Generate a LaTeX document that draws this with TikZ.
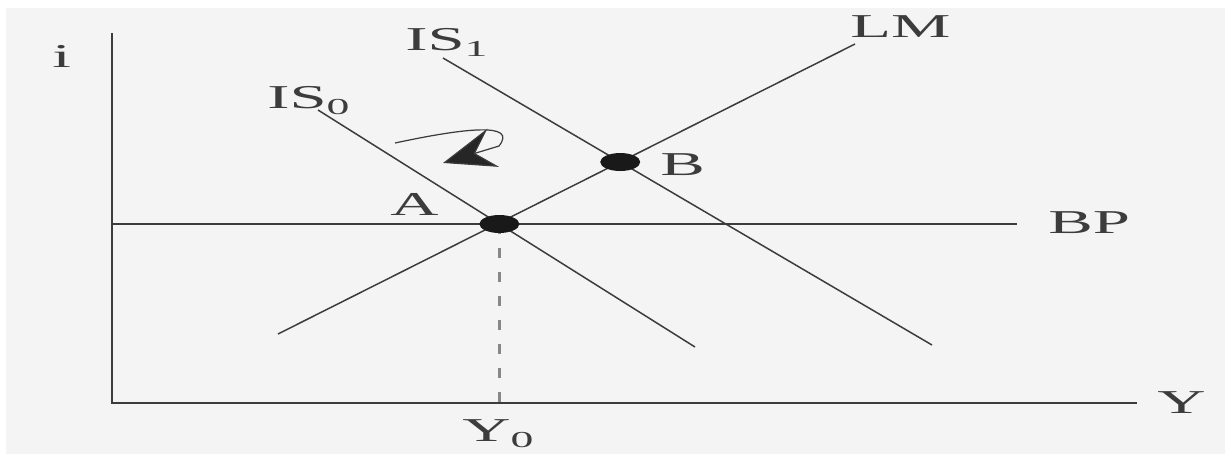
\documentclass[tikz,border=0pt]{standalone}
\usepackage{fontspec}
\setmainfont{Liberation Serif}
\usepackage{tikz}
\usetikzlibrary{arrows.meta, shapes.geometric, calc}
\definecolor{inkgray}{RGB}{60,60,60}
\definecolor{paper}{RGB}{244,244,244}
\definecolor{dashgray}{RGB}{135,135,135}
\tikzset{
	schedule/.style={line width=0.85pt, draw=inkgray}
}
\tikzset{
	curvelabel/.style={font=\fontsize{19}{21}\selectfont, text=inkgray, inner sep=0pt, anchor=base west}
}
\tikzset{
	eqdot/.style={ellipse, fill=black!90, minimum width=0.8cm, minimum height=0.36cm, inner sep=0pt},
	y0dash/.style={line width=1.4pt, draw=dashgray, dash pattern=on 0.2cm off 0.28cm},
	hookarrow/.style={line width=0.7pt, draw=inkgray,
		-{Stealth[length=1.05cm, width=0.8cm, inset=0.38cm, fill=black!85]}}
}
\newcommand{\wide}[1]{\scalebox{2.0}[1]{#1}}
\newcommand{\lowsub}[1]{\raisebox{-3.5pt}{\fontsize{13}{13}\selectfont #1}}

\begin{document}
\begin{tikzpicture}[x=0.02cm, y=-0.02cm]
      \useasboundingbox (0,0) rectangle (1225,454);
      \fill[paper] (6,8) rectangle (1225,454);
      % axes
      \coordinate (origin) at (112,403);
      \coordinate (itop) at (112,33);
      \coordinate (yend) at (1137,403);
      \draw[line width=1pt, inkgray] (itop) -- (origin) -- (yend);
      \node[curvelabel] (ilabel) at (52,67) {\wide{i}};
      \node[curvelabel] (ylabel) at (1157,413) {\wide{Y}};
      % schedules
      \coordinate (bpstart) at (112,224);
      \coordinate (bpend) at (1017,224);
      \coordinate (lmlow) at (278,334);
      \coordinate (lmhigh) at (855,44);
      \coordinate (isohigh) at (318,110);
      \coordinate (isolow) at (695,347);
      \coordinate (isihigh) at (443,58);
      \coordinate (isilow) at (932,345);
      \draw[schedule] (bpstart) -- (bpend);
      \draw[schedule] (lmlow) -- (lmhigh);
      \draw[schedule] (isohigh) -- (isolow);
      \draw[schedule] (isihigh) -- (isilow);
      \node[curvelabel] (bplabel) at (1048,233) {\wide{BP}};
      \node[curvelabel] (lmlabel) at (850,37) {\wide{LM}};
      \node[curvelabel] (isolabel) at (267,108) {\wide{IS\lowsub{0}}};
      \node[curvelabel] (isilabel) at (405,50) {\wide{IS\lowsub{1}}};
      % equilibria
      \coordinate (eqa) at (intersection of isohigh--isolow and bpstart--bpend);
      \coordinate (eqb) at (intersection of isihigh--isilow and lmlow--lmhigh);
      \draw[y0dash] (eqa) -- (eqa |- origin);
      \node[eqdot] (A) at (eqa) {};
      \node[eqdot] (B) at (eqb) {};
      \node[curvelabel] (alabel) at (390,215) {\wide{A}};
      \node[curvelabel] (blabel) at (660,175) {\wide{B}};
      % raised a little so the subscript stays on the page
      \node[curvelabel] (yolabel) at (462,441) {\wide{Y\lowsub{0}}};
      % shift of IS
      \coordinate (hookstart) at (395,143);
      \coordinate (hooktip) at (443,163);
      \draw[hookarrow] (hookstart) .. controls (465,128) and (518,122) .. (499,146) -- (hooktip);
    \end{tikzpicture}
\end{document}
